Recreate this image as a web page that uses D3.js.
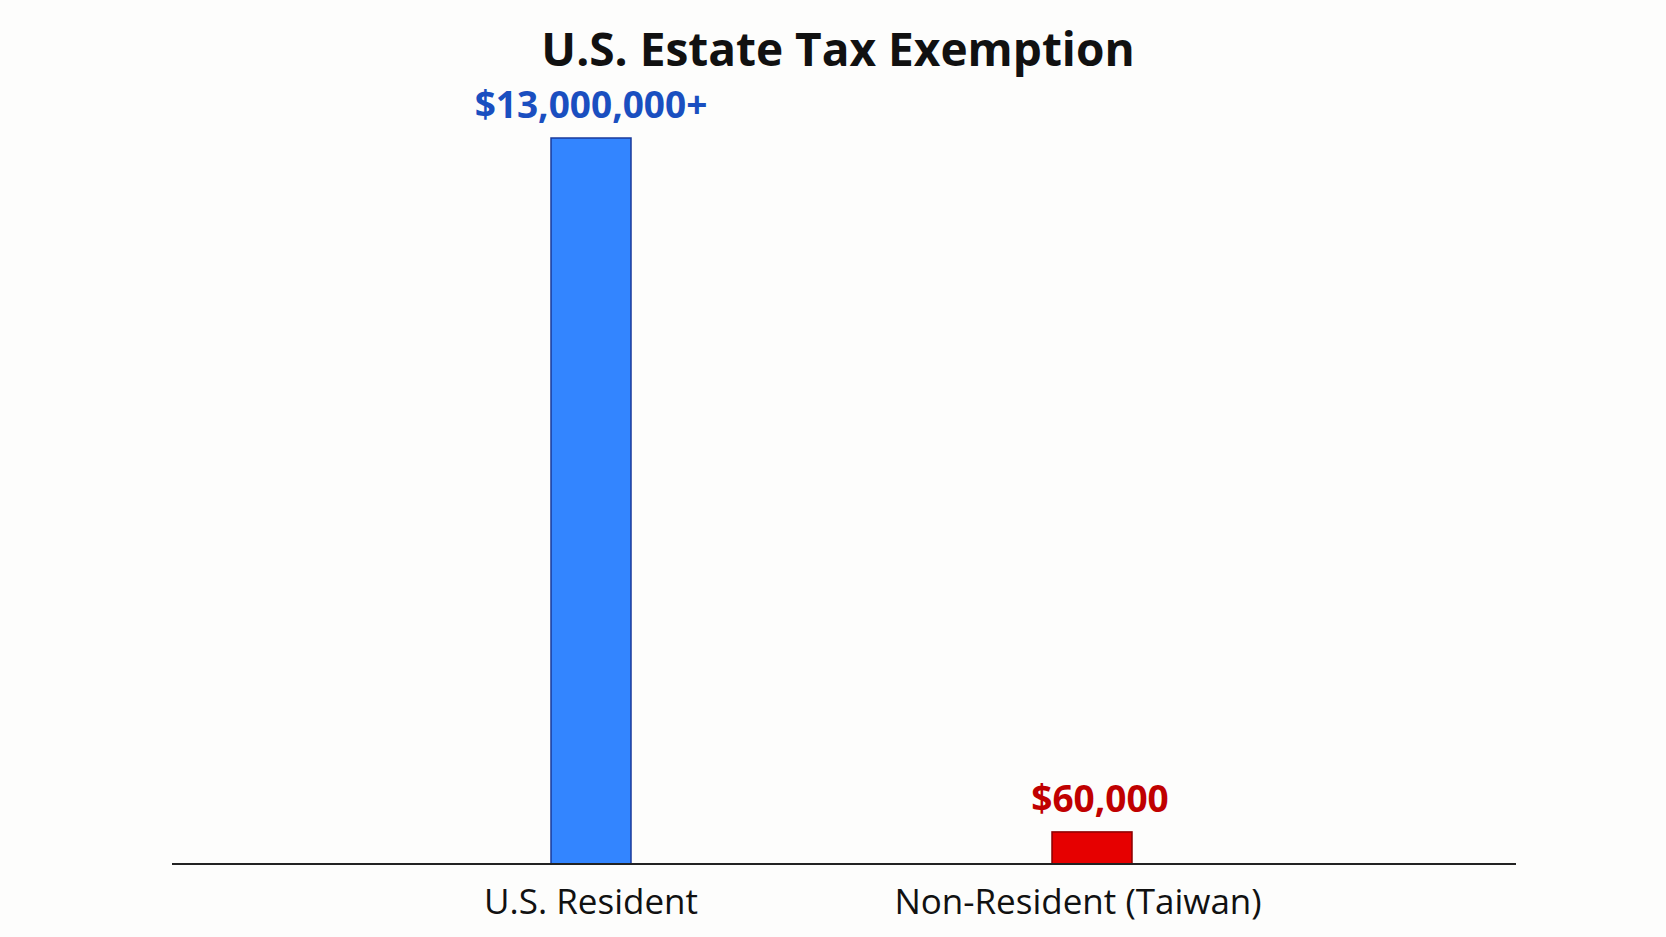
<!DOCTYPE html><html><head><meta charset="utf-8"><script src="https://cdn.jsdelivr.net/npm/d3@7"></script>
<style>body{margin:0;background:#fdfdfc}</style></head><body><svg id="c" width="1666" height="937"></svg><script>
const categories=["U.S. Resident","Non-Resident (Taiwan)"];
const values=[13000000,60000];
const valueLabels=["$13,000,000+","$60,000"];
const fills=["#3385ff","#e60000"];
const strokes=["#1a3a9a","#8a0000"];
const labelColors=["#1a4fc0","#c00000"];
const svg=d3.select("#c");const F="'Open Sans',sans-serif";
const x=d3.scalePoint().domain(categories).range([591,1092]);
const y=d3.scalePow().exponent(0.58).domain([0,13000000]).range([864,138]);
const bw=80;
svg.append("text").attr("x",838).attr("y",66).attr("text-anchor","middle").attr("font-family",F).attr("font-weight",700).attr("font-size",46).attr("fill","#111").text("U.S. Estate Tax Exemption");
svg.selectAll("rect.b").data(values).join("rect").attr("x",(d,i)=>x(categories[i])-bw/2).attr("width",bw).attr("y",d=>y(d)).attr("height",d=>y(0)-y(d)).attr("fill",(d,i)=>fills[i]).attr("stroke",(d,i)=>strokes[i]).attr("stroke-width",1.5);
svg.selectAll("text.v").data(values).join("text").attr("x",(d,i)=>x(categories[i])+(i?8:0)).attr("y",d=>y(d)-20).attr("text-anchor","middle").attr("font-family",F).attr("font-weight",700).attr("font-size",37).attr("fill",(d,i)=>labelColors[i]).text((d,i)=>valueLabels[i]);
svg.append("line").attr("x1",172).attr("x2",1516).attr("y1",864).attr("y2",864).attr("stroke","#222").attr("stroke-width",2);
svg.selectAll("text.c").data(categories).join("text").attr("x",(d,i)=>x(d)+(i?-14:0)).attr("y",914).attr("text-anchor","middle").attr("font-family",F).attr("font-size",35).attr("fill","#111").text(d=>d);
</script></body></html>
